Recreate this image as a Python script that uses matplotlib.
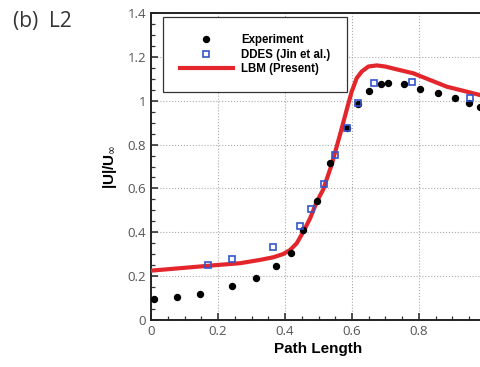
import matplotlib
matplotlib.use("Agg")
from matplotlib import pyplot as plt
from matplotlib.ticker import MultipleLocator, FuncFormatter

# Experiment (black dots)
exp_x = [0.009, 0.078, 0.146, 0.242, 0.312, 0.373, 0.417, 0.453, 0.496, 0.534,
         0.584, 0.617, 0.651, 0.687, 0.707, 0.755, 0.804, 0.857, 0.907, 0.948, 0.982]
exp_y = [0.096, 0.105, 0.119, 0.155, 0.193, 0.245, 0.307, 0.410, 0.543, 0.714,
         0.874, 0.984, 1.044, 1.075, 1.082, 1.075, 1.055, 1.037, 1.011, 0.991, 0.970]

# DDES (Jin et al.) (open blue squares)
ddes_x = [0.171, 0.241, 0.365, 0.445, 0.478, 0.516, 0.549, 0.584, 0.617, 0.666, 0.780, 0.952]
ddes_y = [0.251, 0.280, 0.334, 0.429, 0.505, 0.621, 0.752, 0.874, 0.988, 1.079, 1.086, 1.011]

# LBM (Present) red line
lbm_x = [0.0, 0.1, 0.2, 0.266, 0.325, 0.365, 0.395, 0.415, 0.435, 0.455, 0.475, 0.495,
         0.514, 0.539, 0.564, 0.584, 0.599, 0.614, 0.629, 0.649, 0.674, 0.699, 0.728,
         0.783, 0.883, 0.982, 1.0]
lbm_y = [0.225, 0.238, 0.251, 0.259, 0.274, 0.286, 0.301, 0.319, 0.350, 0.403, 0.464, 0.540,
         0.595, 0.707, 0.844, 0.958, 1.041, 1.103, 1.133, 1.156, 1.161, 1.156, 1.145,
         1.125, 1.064, 1.026, 1.019]

fig = plt.figure(figsize=(4.81, 3.67), dpi=100)
ax = fig.add_axes([151 / 481, 1 - 320 / 367, 335 / 481, 307 / 367])

ax.plot(lbm_x, lbm_y, color="#e3262b", lw=3.0, label="LBM (Present)", zorder=3,
        solid_joinstyle="round")
ax.plot(exp_x, exp_y, "o", color="black", ms=4.3, ls="none", label="Experiment", zorder=4)
ax.plot(ddes_x, ddes_y, "s", mfc="none", mec="#3355cc", mew=1.2, ms=4.0, ls="none",
        label="DDES (Jin et al.)", zorder=5)

ax.set_xlim(0, 1.0)
ax.set_ylim(0, 1.4)
ax.xaxis.set_major_locator(MultipleLocator(0.2))
ax.xaxis.set_minor_locator(MultipleLocator(0.05))
ax.yaxis.set_major_locator(MultipleLocator(0.2))
ax.yaxis.set_minor_locator(MultipleLocator(0.05))

ax.xaxis.set_major_formatter(FuncFormatter(
    lambda v, p: "0" if abs(v) < 1e-9 else ("" if v > 0.99 else "%g" % v)))
ax.yaxis.set_major_formatter(FuncFormatter(
    lambda v, p: "0" if abs(v) < 1e-9 else ("1" if abs(v - 1) < 1e-9 else "%g" % v)))

ax.tick_params(which="both", direction="in", top=False, right=False, colors="#333333",
               labelcolor="#555555", labelsize=9.5)
ax.tick_params(which="major", length=5, width=1.2)
ax.tick_params(which="minor", length=3, width=0.9)
for lab in ax.get_xticklabels() + ax.get_yticklabels():
    lab.set_family("Open Sans")

for s in ax.spines.values():
    s.set_linewidth(1.4)
    s.set_color("#222222")

ax.grid(True, which="major", ls=":", lw=0.8, color="#b0a8a8")

ax.set_xlabel("Path Length", family="Liberation Sans", weight="bold", fontsize=11, labelpad=3)
ax.set_ylabel(r"|U|/U$_{\infty}$", family="Liberation Sans", weight="bold", fontsize=11, labelpad=6)

handles, labels = ax.get_legend_handles_labels()
order = [1, 2, 0]
leg = ax.legend([handles[i] for i in order], [labels[i] for i in order],
                loc="upper left", bbox_to_anchor=(12 / 335, 1 - 4 / 307),
                prop={"family": "Liberation Sans", "weight": "bold", "size": 8.3},
                frameon=True, fancybox=False, edgecolor="#333333", framealpha=1,
                handlelength=4.6, handletextpad=0.75, borderpad=1.45, labelspacing=0.25,
                borderaxespad=0)
leg.get_frame().set_linewidth(0.9)

fig.text(13 / 481, 1 - 27 / 367, "(b)  L2", family="Open Sans", fontsize=15, color="#333333")

fig.savefig("out.png", dpi=100)
